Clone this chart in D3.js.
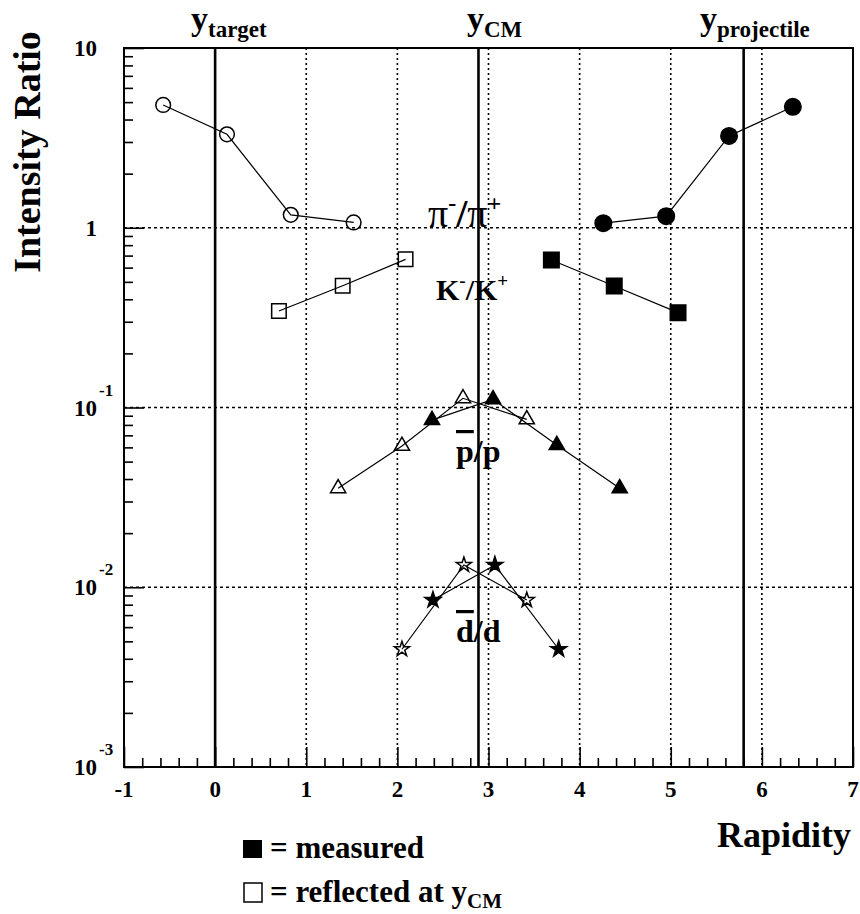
<!DOCTYPE html>
<html>
<head>
<meta charset="utf-8">
<script src="https://cdn.jsdelivr.net/npm/d3@7"></script>
<style>
body { margin: 0; background: #fff; }
text { font-family: "Liberation Serif", "Times New Roman", serif; font-weight: bold; fill: #000; }
</style>
</head>
<body>
<script>
// characteristic rapidities (vertical lines)
var yTarget = 0, yCM = 2.89, yProj = 5.8;

// pi-/pi+
var piMeasX = [4.26, 4.95, 5.64, 6.34];
var piMeasY = [1.06, 1.16, 3.24, 4.71];
var piReflX = [-0.57, 0.13, 0.83, 1.52];
var piReflY = [4.82, 3.31, 1.18, 1.07];
// K-/K+
var kMeasX = [3.69, 4.38, 5.08];
var kMeasY = [0.662, 0.474, 0.337];
var kReflX = [0.70, 1.40, 2.09];
var kReflY = [0.344, 0.476, 0.667];
// pbar/p
var pMeasX = [2.38, 3.05, 3.75, 4.44];
var pMeasY = [0.0851, 0.111, 0.0618, 0.0355];
var pReflX = [1.35, 2.05, 2.72, 3.42];
var pReflY = [0.0355, 0.0611, 0.1125, 0.0859];
// dbar/d
var dMeasX = [2.39, 3.07, 3.77];
var dMeasY = [0.00849, 0.0133, 0.00452];
var dReflX = [2.05, 2.73, 3.42];
var dReflY = [0.00452, 0.0133, 0.00849];

var xTicks = [-1, 0, 1, 2, 3, 4, 5, 6, 7];
var xGrid = [1, 2, 3, 4, 5, 6];
var yTicks = [10, 1, 0.1, 0.01, 0.001];
var yMant = ["10", "1", "10", "10", "10"];
var yExp = ["", "", "-1", "-2", "-3"];
var yGrid = [1, 0.1, 0.01];

var W = 860, H = 914;
var L = 124, R = 853, T = 48, B = 767;

var svg = d3.select("body").append("svg")
  .attr("width", W)
  .attr("height", H);

var x = d3.scaleLinear().domain([-1, 7]).range([L, R]);
var y = d3.scaleLog().domain([0.001, 10]).range([B, T]);

// grid
svg.selectAll(".hgrid").data(yGrid).enter().append("line")
  .attr("x1", L).attr("x2", R)
  .attr("y1", function(d){ return y(d); }).attr("y2", function(d){ return y(d); })
  .attr("stroke", "#000").attr("stroke-width", 1.6).attr("stroke-dasharray", "3,3");
svg.selectAll(".vgrid").data(xGrid).enter().append("line")
  .attr("y1", T).attr("y2", B)
  .attr("x1", function(d){ return x(d); }).attr("x2", function(d){ return x(d); })
  .attr("stroke", "#000").attr("stroke-width", 1.6).attr("stroke-dasharray", "2,3");

// minor tick values
var xMinor = d3.range(-10, 71, 2).filter(function(v){ return v % 10 != 0; }).map(function(v){ return v / 10; });
var yMinor = [];
[0.001, 0.01, 0.1, 1].forEach(function(dec){
  for (var m = 2; m <= 9; m++) yMinor.push(m * dec);
});

function noDomain(g){ g.select(".domain").remove(); g.selectAll("line").attr("stroke-width", 1.6); }

svg.append("g").attr("transform", "translate(0," + B + ")")
  .call(d3.axisBottom(x).tickValues(xTicks).tickSize(-20).tickFormat("")).call(noDomain);
svg.append("g").attr("transform", "translate(0," + B + ")")
  .call(d3.axisBottom(x).tickValues(xMinor).tickSize(-9).tickFormat("")).call(noDomain);
svg.append("g").attr("transform", "translate(" + L + ",0)")
  .call(d3.axisLeft(y).tickValues(yTicks).tickSize(-20).tickFormat("")).call(noDomain);
svg.append("g").attr("transform", "translate(" + L + ",0)")
  .call(d3.axisLeft(y).tickValues(yMinor).tickSize(-9).tickFormat("")).call(noDomain);

// frame
svg.append("rect").attr("x", L).attr("y", T).attr("width", R - L).attr("height", B - T)
  .attr("fill", "none").attr("stroke", "#000").attr("stroke-width", 2);

// characteristic rapidity lines
svg.selectAll(".yline").data([yTarget, yCM, yProj]).enter().append("line")
  .attr("x1", function(d){ return x(d); }).attr("x2", function(d){ return x(d); })
  .attr("y1", T).attr("y2", B)
  .attr("stroke", "#000").attr("stroke-width", 2.6);

// tick labels
svg.selectAll(".xlab").data(xTicks).enter().append("text")
  .attr("x", function(d){ return x(d); }).attr("y", B + 30)
  .attr("text-anchor", "middle").attr("font-size", 23)
  .text(function(d){ return d; });

svg.selectAll(".ylab").data(yTicks).enter().append("text")
  .attr("x", 97).attr("y", function(d){ return y(d) + 8; })
  .attr("text-anchor", "end").attr("font-size", 23)
  .text(function(d, i){ return yMant[i]; });
svg.selectAll(".yexp").data(yTicks).enter().append("text")
  .attr("x", 99).attr("y", function(d){ return y(d) - 12; })
  .attr("font-size", 17)
  .text(function(d, i){ return yExp[i]; });

// axis titles
svg.append("text").attr("transform", "translate(40,152) rotate(-90)")
  .attr("text-anchor", "middle").attr("font-size", 38).text("Intensity Ratio");
svg.append("text").attr("x", 851).attr("y", 847)
  .attr("text-anchor", "end").attr("font-size", 36).text("Rapidity");

// labels on top of the frame
function ySub(px, sub){
  var t = svg.append("text").attr("x", px).attr("y", 30);
  t.append("tspan").attr("font-size", 34).text("y");
  t.append("tspan").attr("font-size", 23).attr("dy", 7).text(sub);
}
ySub(191, "target");
ySub(467, "CM");
ySub(700, "projectile");

// data series
var line = d3.line().x(function(d){ return x(d[0]); }).y(function(d){ return y(d[1]); });

function series(xs, ys, type, size, filled){
  var pts = d3.zip(xs, ys);
  svg.append("path").datum(pts).attr("d", line)
    .attr("fill", "none").attr("stroke", "#000").attr("stroke-width", 1.2);
  svg.selectAll(null).data(pts).enter().append("path")
    .attr("transform", function(d){ return "translate(" + x(d[0]) + "," + y(d[1]) + ")"; })
    .attr("d", d3.symbol().type(type).size(size))
    .attr("fill", filled ? "#000" : "none")
    .attr("stroke", "#000").attr("stroke-width", 1.5);
}

series(piReflX, piReflY, d3.symbolCircle, 170, false);
series(piMeasX, piMeasY, d3.symbolCircle, 215, true);
series(kReflX, kReflY, d3.symbolSquare, 210, false);
series(kMeasX, kMeasY, d3.symbolSquare, 240, true);
series(pReflX, pReflY, d3.symbolTriangle, 100, false);
series(pMeasX, pMeasY, d3.symbolTriangle, 100, true);
series(dReflX, dReflY, d3.symbolStar, 70, false);
series(dMeasX, dMeasY, d3.symbolStar, 80, true);

// particle labels
var t1 = svg.append("text").attr("x", 428).attr("y", 227).attr("font-size", 40);
t1.append("tspan").attr("font-weight", "normal").text("π");
t1.append("tspan").attr("font-size", 24).attr("dy", -16).text("-");
t1.append("tspan").attr("dy", 16).text("/");
t1.append("tspan").attr("font-weight", "normal").text("π");
t1.append("tspan").attr("font-size", 24).attr("dy", -16).text("+");

var t2 = svg.append("text").attr("x", 436).attr("y", 300).attr("font-size", 30);
t2.append("tspan").text("K");
t2.append("tspan").attr("font-size", 19).attr("dy", -13).text("-");
t2.append("tspan").attr("dy", 13).text("/K");
t2.append("tspan").attr("font-size", 19).attr("dy", -13).text("+");

var t3 = svg.append("text").attr("x", 456).attr("y", 462).attr("font-size", 32);
t3.append("tspan").style("text-decoration", "overline").text("p");
t3.append("tspan").text("/p");

var t4 = svg.append("text").attr("x", 456).attr("y", 642).attr("font-size", 32);
t4.append("tspan").style("text-decoration", "overline").text("d");
t4.append("tspan").text("/d");

// legend
svg.append("rect").attr("x", 243).attr("y", 840).attr("width", 19).attr("height", 18).attr("fill", "#000");
svg.append("text").attr("x", 270).attr("y", 858).attr("font-size", 31).text("= measured");
svg.append("rect").attr("x", 244).attr("y", 883).attr("width", 18).attr("height", 19)
  .attr("fill", "none").attr("stroke", "#000").attr("stroke-width", 1.5);
var lg = svg.append("text").attr("x", 270).attr("y", 902).attr("font-size", 31);
lg.append("tspan").text("= reflected at y");
lg.append("tspan").attr("font-size", 21).attr("dy", 6).text("CM");
</script>
</body>
</html>
